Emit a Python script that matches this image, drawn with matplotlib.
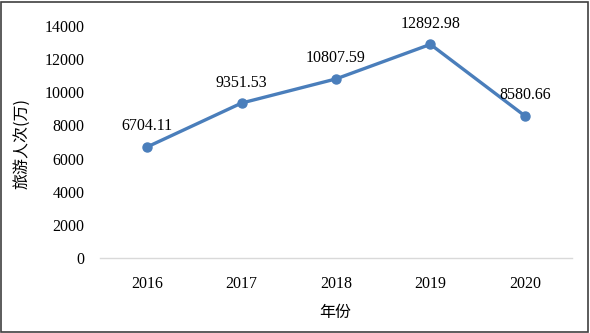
import matplotlib
matplotlib.use("Agg")
import matplotlib.pyplot as plt
from matplotlib.patches import Rectangle

years = ["2016", "2017", "2018", "2019", "2020"]
visitors = [6704.11, 9351.53, 10807.59, 12892.98, 8580.66]
yticks = [0, 2000, 4000, 6000, 8000, 10000, 12000, 14000]

plt.rcParams['font.family'] = ['Liberation Serif', 'Noto Sans CJK SC']

fig = plt.figure(figsize=(5.9, 3.33), dpi=100)
ax = fig.add_axes([0.1695, 0.2252, 0.8, 0.6967])
x = list(range(len(years)))
color = '#4A7EBB'
ax.plot(x, visitors, color=color, lw=2.4, marker='o', ms=6.5, solid_capstyle='round')
for xi, v in zip(x, visitors):
    ax.annotate(f"{v:.2f}", (xi, v), xytext=(0, 9), textcoords='offset points',
                ha='center', va='bottom', fontsize=11.5)
ax.set_xlim(-0.5, len(years) - 0.5)
ax.set_ylim(0, 14000)
ax.set_yticks(yticks)
ax.set_yticklabels([str(t) for t in yticks], fontsize=11.5)
ax.set_xticks(x)
ax.set_xticklabels(years, fontsize=11.5)
ax.tick_params(length=0)
ax.tick_params(axis='y', pad=11)
ax.tick_params(axis='x', pad=13)
for s in ['top', 'right', 'left']:
    ax.spines[s].set_visible(False)
ax.spines['bottom'].set_color('#D9D9D9')
ax.spines['bottom'].set_linewidth(1.0)
fig.text(0.5678, 0.062, "年份", ha='center', va='center', fontsize=11.5,
         family=['Noto Sans CJK SC'])
fig.text(0.037, 0.569, "旅游人次(万)", ha='center', va='center', rotation=90,
         fontsize=11.5, family=['Noto Sans CJK SC'])
fig.patches.append(Rectangle((0.002, 0.004), 0.995, 0.99, transform=fig.transFigure,
                             fill=False, edgecolor='#404040', lw=1.2))
fig.savefig("out.png", dpi=100)
